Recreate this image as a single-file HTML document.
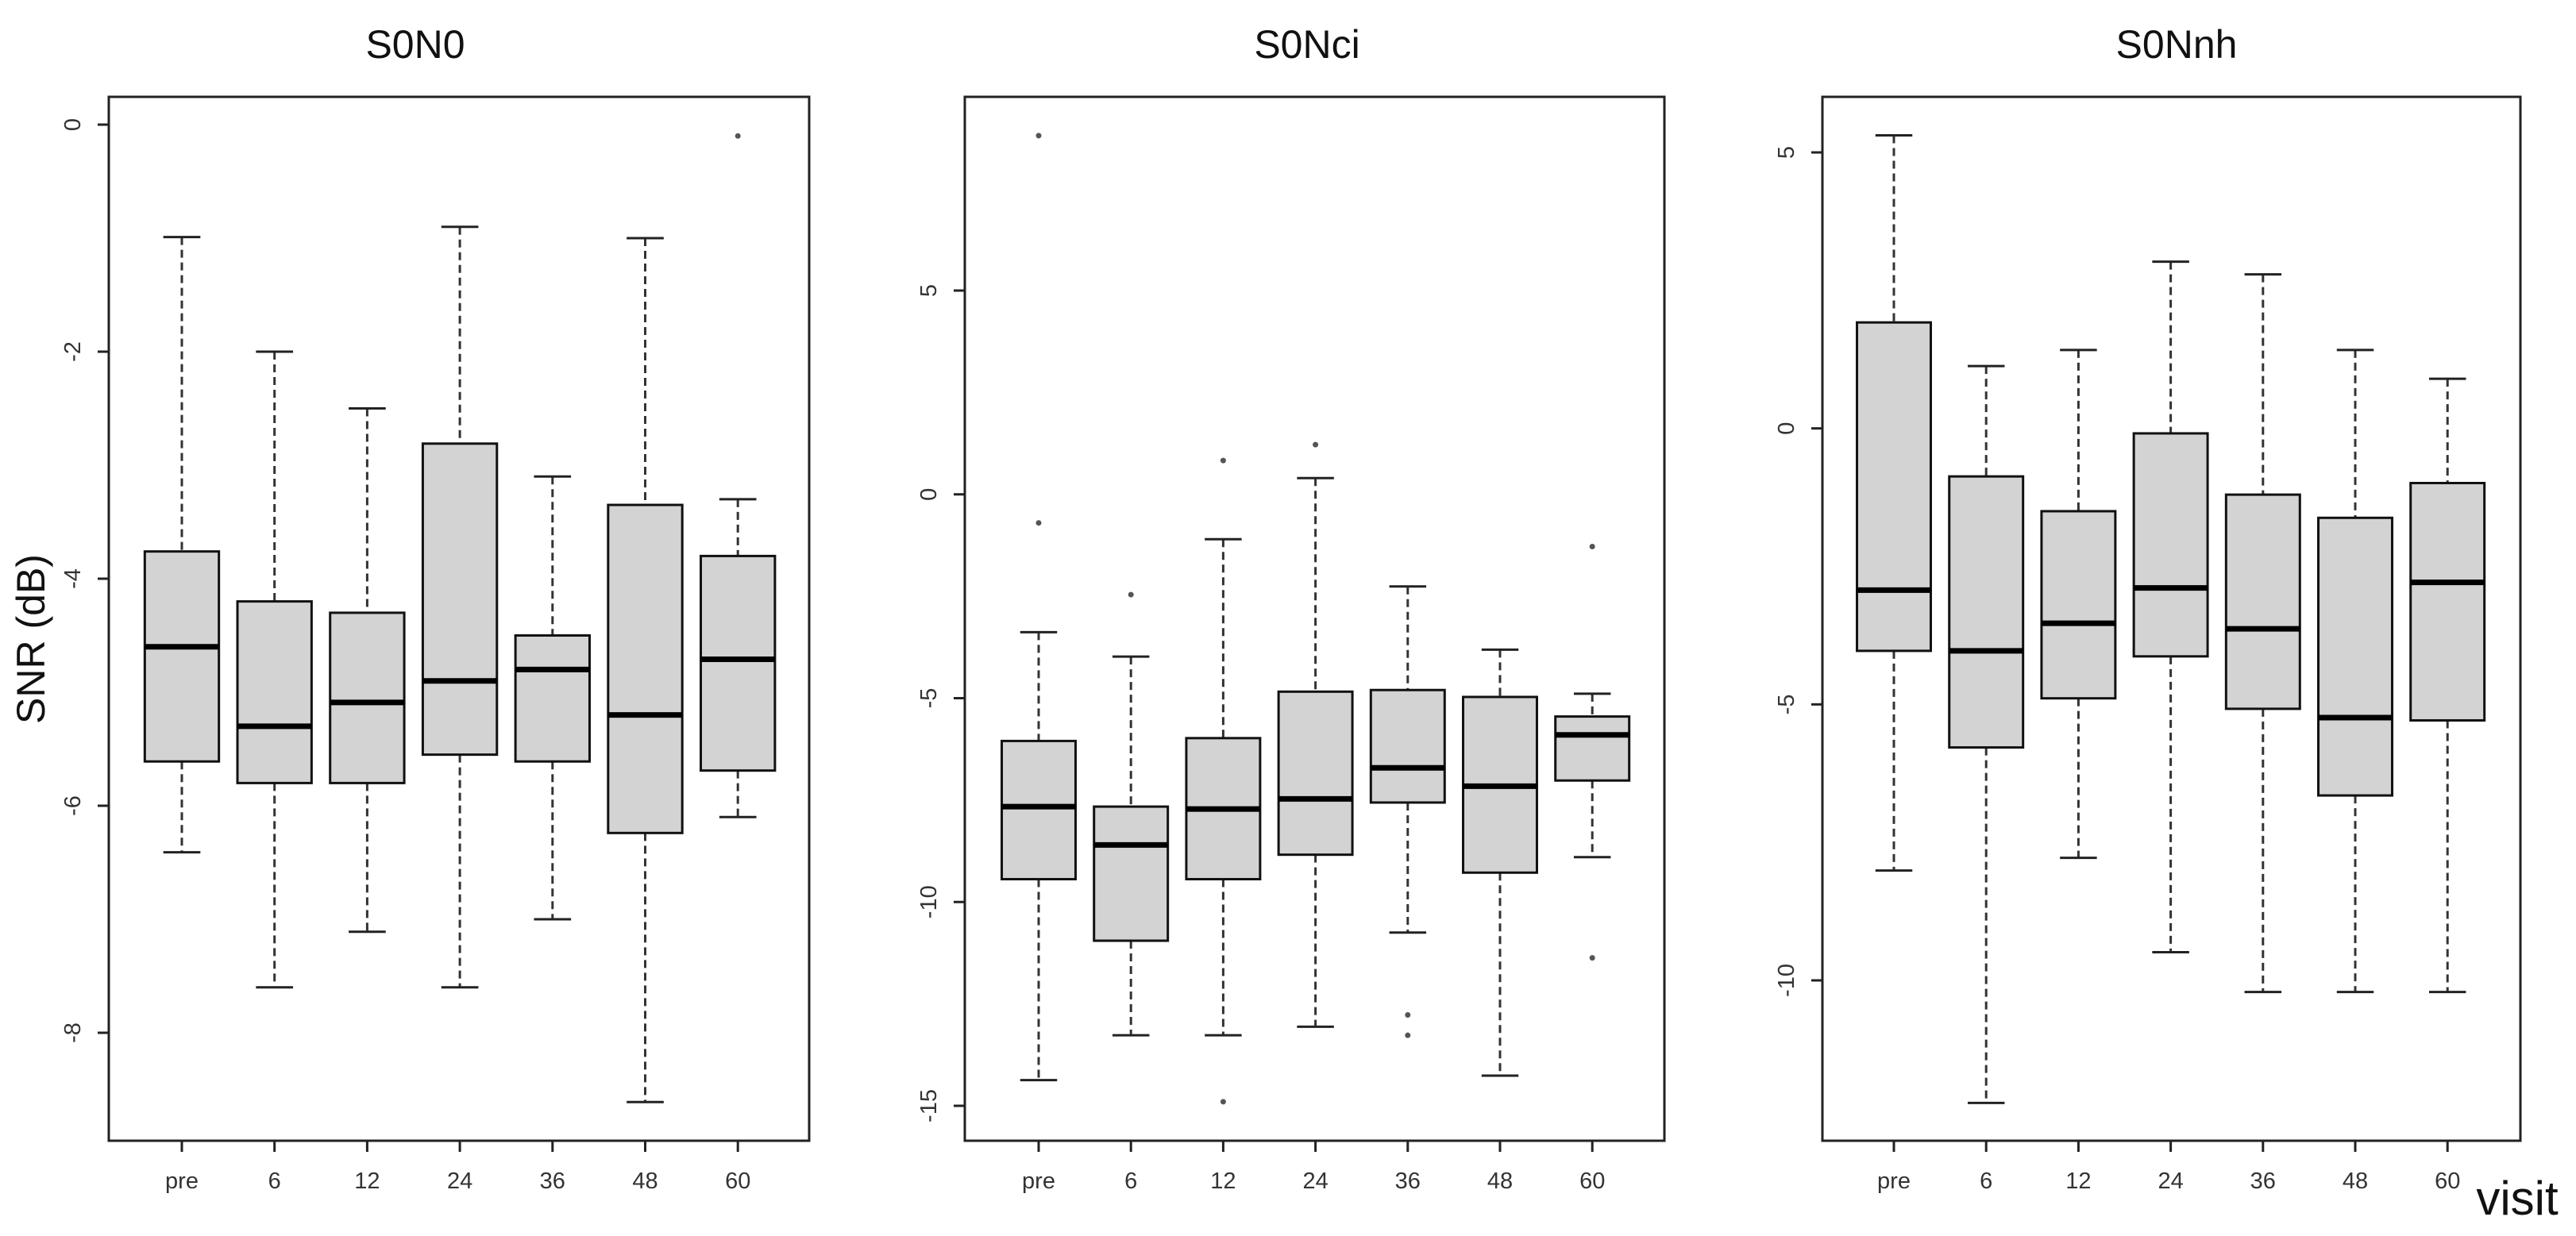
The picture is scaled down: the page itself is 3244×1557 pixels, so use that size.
<!DOCTYPE html>
<html><head><meta charset="utf-8"><style>
html,body{margin:0;padding:0;background:#fff;}
svg{display:block;}
text{font-family:"Liberation Sans",sans-serif;}
</style></head><body>
<svg id="chart" width="3244" height="1557" viewBox="0 0 3244 1557" xmlns="http://www.w3.org/2000/svg"></svg>
<script>
const categories = ["pre","6","12","24","36","48","60"];
const titles = ["S0N0","S0Nci","S0Nnh"];
// each: [lowWhisker, q1, median, q3, highWhisker]
const s0n0Stats = [[-6.41,-5.61,-4.6,-3.76,-0.99],[-7.6,-5.8,-5.3,-4.2,-2.0],[-7.11,-5.8,-5.09,-4.3,-2.5],[-7.6,-5.55,-4.9,-2.81,-0.9],[-7.0,-5.61,-4.8,-4.5,-3.1],[-8.61,-6.24,-5.2,-3.35,-1.0],[-6.1,-5.69,-4.71,-3.8,-3.3]];
const s0n0Outliers = [[],[],[],[],[],[],[-0.1]];
const s0nciStats = [[-14.37,-9.44,-7.66,-6.05,-3.38],[-13.27,-10.95,-8.6,-7.66,-3.98],[-13.27,-9.44,-7.72,-5.98,-1.1],[-13.06,-8.84,-7.47,-4.84,0.4],[-10.75,-7.56,-6.71,-4.8,-2.26],[-14.26,-9.28,-7.16,-4.97,-3.81],[-8.9,-7.02,-5.9,-5.45,-4.89]];
const s0nciOutliers = [[8.8,-0.7],[-2.46],[0.83,-14.9],[1.22],[-12.77,-13.27],[],[-1.28,-11.37]];
const s0nnhStats = [[-8.01,-4.03,-2.93,1.92,5.31],[-12.22,-5.78,-4.03,-0.87,1.13],[-7.78,-4.89,-3.53,-1.5,1.42],[-9.49,-4.13,-2.89,-0.09,3.02],[-10.21,-5.08,-3.63,-1.2,2.79],[-10.21,-6.65,-5.24,-1.62,1.42],[-10.21,-5.29,-2.79,-0.99,0.9]];
const s0nnhOutliers = [[],[],[],[],[],[],[]];
const s0n0Ticks = [0,-2,-4,-6,-8];
const s0nciTicks = [5,0,-5,-10,-15];
const s0nnhTicks = [5,0,-5,-10];

const NS="http://www.w3.org/2000/svg";
const svg=document.getElementById('chart');
function mk(tag,attrs,parent){const e=document.createElementNS(NS,tag);for(const k in attrs)e.setAttribute(k,attrs[k]);(parent||svg).appendChild(e);return e;}

const panels=[
 {title:titles[0],stats:s0n0Stats,out:s0n0Outliers,ticks:s0n0Ticks,left:137,right:1019,v0:0,y0:157,v1:-8,y1:1301,x0:229,dx:116.7,tx:523,name:'s0n0'},
 {title:titles[1],stats:s0nciStats,out:s0nciOutliers,ticks:s0nciTicks,left:1215,right:2096,v0:5,y0:366,v1:-15,y1:1393,x0:1308,dx:116.2,tx:1646,name:'s0nci'},
 {title:titles[2],stats:s0nnhStats,out:s0nnhOutliers,ticks:s0nnhTicks,left:2295,right:3174,v0:5,y0:192,v1:-10,y1:1235,x0:2385,dx:116.2,tx:2741,name:'s0nnh'}
];
const TOP=122,BOT=1437;
panels.forEach(p=>{
 const g=mk('g',{});
 
 
 const Y=v=>p.y0+(v-p.v0)*(p.y1-p.y0)/(p.v1-p.v0);
 const X=i=>p.x0+i*p.dx;
 const bw=p.dx*0.8, cw=bw/2;
 const t=mk('text',{x:p.tx,y:73,'text-anchor':'middle','font-size':50,fill:'#111'},g);t.textContent=p.title;
 
 
 p.stats.forEach((s,i)=>{
  const bg=mk('g',{},g);
  
  
  const x=X(i);
  mk('line',{x1:x,x2:x,y1:Y(s[4]),y2:Y(s[3]),stroke:'#333','stroke-width':3,'stroke-dasharray':'10,6'},bg);
  mk('line',{x1:x,x2:x,y1:Y(s[1]),y2:Y(s[0]),stroke:'#333','stroke-width':3,'stroke-dasharray':'10,6'},bg);
  mk('line',{x1:x-cw/2,x2:x+cw/2,y1:Y(s[4]),y2:Y(s[4]),stroke:'#222','stroke-width':3},bg);
  mk('line',{x1:x-cw/2,x2:x+cw/2,y1:Y(s[0]),y2:Y(s[0]),stroke:'#222','stroke-width':3},bg);
  mk('rect',{x:x-bw/2,y:Y(s[3]),width:bw,height:Y(s[1])-Y(s[3]),fill:'#d3d3d3',stroke:'#111','stroke-width':3},bg);
  mk('line',{x1:x-bw/2,x2:x+bw/2,y1:Y(s[2]),y2:Y(s[2]),stroke:'#000','stroke-width':7},bg);
  p.out[i].forEach(o=>{
   const c=mk('circle',{cx:x,cy:Y(o),r:3.5,fill:'#555',stroke:'none'},bg);
   
   
  });
  mk('line',{x1:x,x2:x,y1:BOT,y2:BOT+14,stroke:'#222','stroke-width':3},g);
  const xl=mk('text',{x:x,y:1497,'text-anchor':'middle','font-size':29,fill:'#333'},g);xl.textContent=categories[i];
  
  
 });
 const fr=mk('rect',{x:p.left,y:TOP,width:p.right-p.left,height:BOT-TOP,fill:'none',stroke:'#222','stroke-width':3},g);
 
 
 p.ticks.forEach(v=>{
  const y=Y(v);
  mk('line',{x1:p.left-14,x2:p.left,y1:y,y2:y,stroke:'#222','stroke-width':3},g);
  const tl=mk('text',{x:0,y:0,'text-anchor':'middle','font-size':29,fill:'#333',transform:`translate(${p.left-36},${y}) rotate(-90)`},g);
  tl.textContent=String(v);
  
  
 });
});
const yt=mk('text',{x:0,y:0,'text-anchor':'middle','font-size':50,fill:'#111',transform:'translate(56,805) rotate(-90)'});
yt.textContent='SNR (dB)';


const xt=mk('text',{x:3170,y:1530,'text-anchor':'middle','font-size':60,fill:'#111'});
xt.textContent='visit';


</script>
</body></html>
